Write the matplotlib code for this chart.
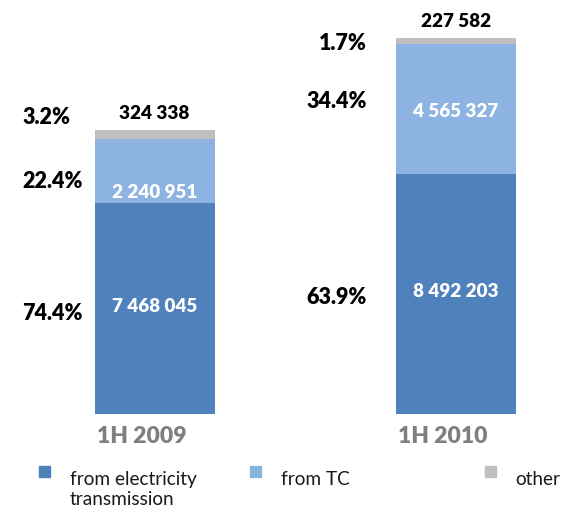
import matplotlib
matplotlib.use("Agg")
import matplotlib.pyplot as plt
from matplotlib.patches import Rectangle
from matplotlib.transforms import offset_copy

categories = ["1H 2009", "1H 2010"]
series_names = ["from electricity\ntransmission", "from TC", "other"]
electricity = [7468045, 8492203]
tc = [2240951, 4565327]
other = [324338, 227582]
pct_electricity = ["74.4%", "63.9%"]
pct_tc = ["22.4%", "34.4%"]
pct_other = ["3.2%", "1.7%"]

colors = ["#4F81BD", "#8DB3E2", "#BFBFBF"]
FONT = "Lato"
WEIGHT = "heavy"
W, H = 564, 509

fig = plt.figure(figsize=(W / 100, H / 100), dpi=100)
bottom_px, top_px = 414, 38
ax = fig.add_axes([0, (H - bottom_px) / H, 1, (bottom_px - top_px) / H])
totals = [a + b + c for a, b, c in zip(electricity, tc, other)]
ax.set_ylim(0, max(totals))
c0, c1 = 154.5, 456
scale = c1 - c0
ax.set_xlim(-c0 / scale, (W - c0) / scale)
bw = 120 / scale
x = list(range(len(categories)))

ax.bar(x, electricity, width=bw, color=colors[0], label=series_names[0])
ax.bar(x, tc, width=bw, bottom=electricity, color=colors[1], label=series_names[1])
base3 = [a + b for a, b in zip(electricity, tc)]
ax.bar(x, other, width=bw, bottom=base3, color=colors[2], label=series_names[2])
ax.axis("off")

def fmt(v):
    return f"{v:,}".replace(",", " ")

fs_val = 13.6
fs_pct = 15.5
cat_tr = offset_copy(ax.transData, fig=fig, x=-13, y=0, units="dots")
for i in x:
    ax.text(i, electricity[i] * 0.5 + 75000, fmt(electricity[i]), ha="center", va="center",
            color="white", fontsize=fs_val, fontweight=WEIGHT, family=FONT)
    off = -750000 if i == 0 else -100000
    ax.text(i, electricity[i] + tc[i] / 2 + off, fmt(tc[i]), ha="center", va="center",
            color="white", fontsize=fs_val, fontweight=WEIGHT, family=FONT)
    ax.text(i, totals[i] + 600000, fmt(other[i]), ha="center", va="center",
            color="black", fontsize=fs_val, fontweight=WEIGHT, family=FONT)
    ax.text(i, -780000, categories[i], ha="center", va="center", color="#7F7F7F",
            fontsize=16.5, fontweight=WEIGHT, family=FONT, transform=cat_tr)

# percentage labels
pct_y = [[118, 181, 313], [43, 102, 297]]
pct_vals = [[pct_other[0], pct_tc[0], pct_electricity[0]],
            [pct_other[1], pct_tc[1], pct_electricity[1]]]
for i in x:
    for j in range(3):
        yy = (H - pct_y[i][j]) / H
        if i == 0:
            fig.text(22 / W, yy, pct_vals[i][j], ha="left", va="center", fontsize=fs_pct,
                     fontweight=WEIGHT, family=FONT)
        else:
            fig.text(367 / W, yy, pct_vals[i][j], ha="right", va="center", fontsize=fs_pct,
                     fontweight=WEIGHT, family=FONT)

# legend
sq_x = [39, 250, 485]
tx_x = [70, 281, 515]
sq = 11
for k in range(3):
    fig.patches.append(Rectangle((sq_x[k] / W, (H - 477) / H), sq / W, sq / H,
                                 transform=fig.transFigure, color=colors[k]))
    for l, line in enumerate(series_names[k].split("\n")):
        fig.text(tx_x[k] / W, (H - 485 - 20 * l) / H, line, ha="left", va="baseline",
                 fontsize=13.7, family=FONT, color="#1a1a1a")

fig.savefig("out.png", dpi=100)
